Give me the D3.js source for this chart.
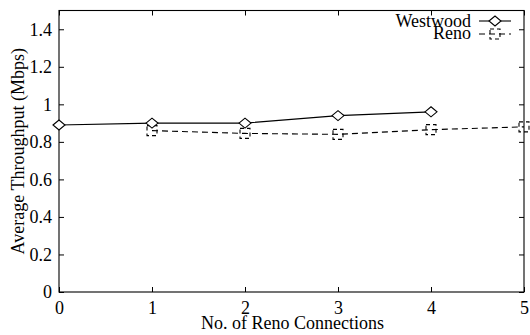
<!DOCTYPE html>
<html><head><meta charset="utf-8">
<script src="https://cdn.jsdelivr.net/npm/d3@7"></script>
<style>body{margin:0;background:#fff}svg{display:block}</style>
</head><body><svg id="c" width="530" height="335"></svg>
<script>
const connections = [0, 1, 2, 3, 4, 5];
const westwoodX = [0, 1, 2, 3, 4];
const westwoodY = [0.89, 0.90, 0.90, 0.94, 0.96];
const renoX = [1, 2, 3, 4, 5];
const renoY = [0.86, 0.845, 0.84, 0.865, 0.88];
const yTicks = [0, 0.2, 0.4, 0.6, 0.8, 1, 1.2, 1.4];
const yTickLabels = ["0", "0.2", "0.4", "0.6", "0.8", "1", "1.2", "1.4"];

const FONT = "'Liberation Serif'";
const svg = d3.select("#c");
const L = 59, R = 524, T = 10.5, B = 292;
const x = d3.scaleLinear().domain([0, 5]).range([L, R]);
const y = d3.scaleLinear().domain([0, 1.5]).range([B, T]);
const fs = 18;

svg.append("rect").attr("x", L).attr("y", T).attr("width", R - L).attr("height", B - T)
  .attr("fill", "none").attr("stroke", "#000").attr("stroke-width", 1.1);

const xb = svg.append("g").attr("transform", `translate(0,${B})`)
  .call(d3.axisBottom(x).tickValues(connections).tickFormat(d3.format("d")).tickSizeInner(-5).tickSizeOuter(0).tickPadding(9));
const xt = svg.append("g").attr("transform", `translate(0,${T})`)
  .call(d3.axisTop(x).tickValues(connections).tickFormat("").tickSizeInner(-5).tickSizeOuter(0));
const yl = svg.append("g").attr("transform", `translate(${L},0)`)
  .call(d3.axisLeft(y).tickValues(yTicks).tickFormat((d, i) => yTickLabels[i]).tickSizeInner(-5).tickSizeOuter(0).tickPadding(7));
const yr = svg.append("g").attr("transform", `translate(${R},0)`)
  .call(d3.axisRight(y).tickValues(yTicks).tickFormat("").tickSizeInner(-5).tickSizeOuter(0));
[xb, xt, yl, yr].forEach(g => {
  g.attr("font-family", null).attr("font-size", null);
  g.select(".domain").remove();
  g.selectAll(".tick line").attr("stroke", "#000");
  g.selectAll("text").style("font-family", FONT).style("font-size", fs + "px").attr("fill", "#000");
});

function txt(g) { return g.append("text").style("font-family", FONT).style("font-size", fs + "px").attr("fill", "#000"); }

txt(svg).attr("x", (L + R) / 2 + 1).attr("y", 329).attr("text-anchor", "middle").text("No. of Reno Connections");
txt(svg).attr("transform", `translate(24,${(T + B) / 2}) rotate(-90)`).attr("text-anchor", "middle").text("Average Throughput (Mbps)");

const ww = westwoodX.map((d, i) => [d, westwoodY[i]]);
const rn = renoX.map((d, i) => [d, renoY[i]]);
const line = d3.line().x(d => x(d[0])).y(d => y(d[1]));

svg.append("path").attr("d", line(rn)).attr("fill", "none").attr("stroke", "#000")
  .attr("stroke-width", 1.1).attr("stroke-dasharray", "6,4");
svg.append("path").attr("d", line(ww)).attr("fill", "none").attr("stroke", "#000").attr("stroke-width", 1.1);

function diamond(g, cx, cy) {
  g.append("path").attr("d", `M${cx - 6},${cy}L${cx},${cy - 5}L${cx + 6},${cy}L${cx},${cy + 5}Z`)
    .attr("fill", "#fff").attr("stroke", "#000").attr("stroke-width", 1.1);
}
function box(g, cx, cy) {
  g.append("rect").attr("x", cx - 5).attr("y", cy - 5).attr("width", 10).attr("height", 10)
    .attr("fill", "none").attr("stroke", "#000").attr("stroke-width", 1.1).attr("stroke-dasharray", "4,3");
}
const mg = svg.append("g");
rn.forEach(d => box(mg, x(d[0]), y(d[1])));
ww.forEach(d => diamond(mg, x(d[0]), y(d[1])));

const lg = svg.append("g");
txt(lg).attr("x", 471).attr("y", 27).attr("text-anchor", "end").text("Westwood");
txt(lg).attr("x", 471).attr("y", 39).attr("text-anchor", "end").text("Reno");
lg.append("line").attr("x1", 479).attr("x2", 511).attr("y1", 21).attr("y2", 21).attr("stroke", "#000").attr("stroke-width", 1.1);
diamond(lg, 495, 21);
lg.append("line").attr("x1", 479).attr("x2", 511).attr("y1", 34).attr("y2", 34).attr("stroke", "#000").attr("stroke-width", 1.1).attr("stroke-dasharray", "6,4");
box(lg, 495, 34);
</script></body></html>
